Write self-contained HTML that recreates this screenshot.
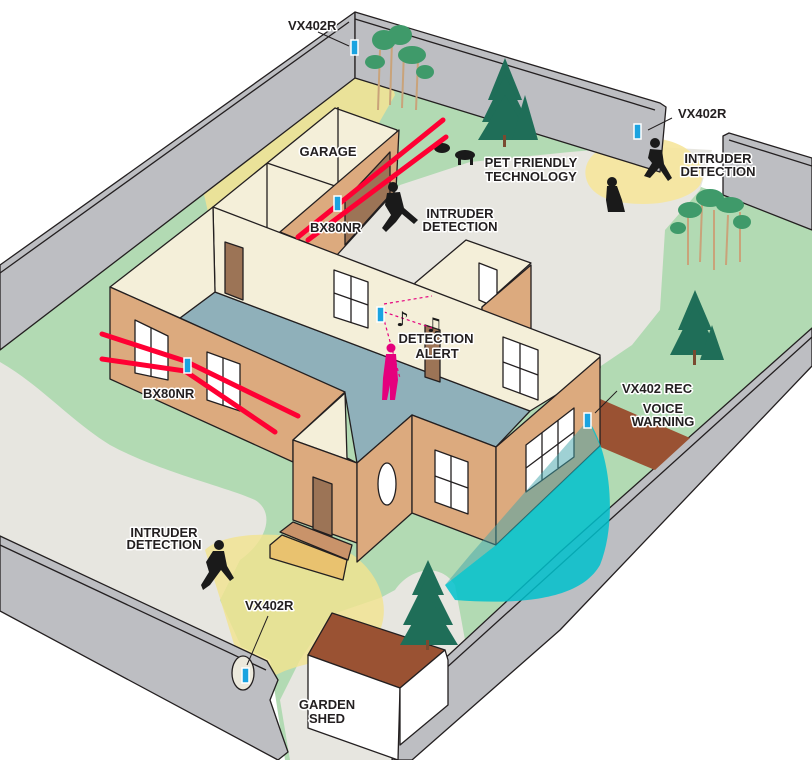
<!DOCTYPE html>
<html><head><meta charset="utf-8"><style>
html,body{margin:0;padding:0;background:#fff}
svg{display:block}
.l{font-family:"Liberation Sans Narrow","Liberation Sans",sans-serif;font-weight:bold;font-size:13px;fill:#231f20;stroke:#fff;stroke-width:3;paint-order:stroke;stroke-linejoin:round}
.o{stroke:#231f20;stroke-width:1.3;stroke-linejoin:round}
</style></head><body>
<svg width="812" height="760" viewBox="0 0 812 760" xmlns="http://www.w3.org/2000/svg">
<rect width="812" height="760" fill="#fff"/>
<!-- ground -->
<polygon points="0,350 355,78 660,172 723,195 812,230 812,328 560,552 400,700 394,760 285,760 270,660 0,536" fill="#b2dab3"/>
<path d="M0,362 C40,385 70,420 110,445 C160,472 230,488 255,500 C275,512 268,540 240,560 L220,600 L245,655 L267,661 L0,536 Z" fill="#e7e6e0"/>
<path d="M330,250 L400,185 L470,162 L570,152 L640,146 L712,150 L700,190 L665,230 L660,310 L632,345 L592,372 L420,300 Z" fill="#e7e6e0"/>
<path d="M395,590 C410,568 440,562 455,585 L465,640 L420,690 L400,700 L394,760 L290,760 L280,700 L300,660 L330,615 L380,598 Z" fill="#e7e6e0"/>
<!-- yellow zones -->
<polygon points="355,40 385,62 395,95 372,135 300,172 208,212 203,190 262,128" fill="#f3e394" opacity="0.85"/>
<path d="M638,128 L600,150 C580,160 578,190 610,200 C650,210 690,200 700,185 C710,165 690,145 665,140 Z" fill="#f6e59c" opacity="0.9"/>
<path d="M205,550 C225,530 300,528 350,553 C388,578 392,622 372,642 C345,662 295,660 268,680 L248,690 L222,605 Z" fill="#f2e38f" opacity="0.8"/>
<!-- walls -->
<polygon class="o" points="0,265 355,12 355,78 0,350" fill="#bdbec2"/>
<line class="o" x1="0" y1="273" x2="349" y2="22"/>
<polygon class="o" points="355,12 660,103 666,107 660,172 355,78" fill="#bdbec2"/>
<line class="o" x1="355" y1="19" x2="655" y2="110"/>
<polygon class="o" points="723,136 729,133 812,158 812,230 723,195" fill="#bdbec2"/>
<line class="o" x1="729" y1="140" x2="812" y2="166"/>
<polygon class="o" points="812,328 560,552 400,700 394,702 396,735 392,760 412,760 560,630 812,366" fill="#bdbec2"/>
<line class="o" x1="812" y1="337" x2="402" y2="708"/>
<polygon class="o" points="0,536 267,661 278,680 270,700 282,735 288,752 278,760 0,611" fill="#bdbec2"/>
<line class="o" x1="0" y1="545" x2="266" y2="670"/>
<ellipse class="o" cx="243" cy="673" rx="11" ry="17" fill="#ece9dc"/>
<!-- brown path -->
<polygon points="598,398 690,438 655,470 598,446" fill="#9a5233"/>
<!-- garage -->
<polygon class="o" points="213,207 335,108 397,130 397,140 280,232 278,240" fill="#f4efd9"/>
<line class="o" x1="338" y1="107" x2="338" y2="187"/>
<line class="o" x1="267" y1="163" x2="267" y2="230"/>
<line class="o" x1="267" y1="163" x2="338" y2="187"/>
<polygon class="o" points="280,232 399,130 396,190 337,255" fill="#dcaa7e"/>
<polygon class="o" points="345,200 390,152 390,195 345,245" fill="#9c7456"/>
<!-- floor -->
<polygon class="o" points="180,318 215,292 530,411 496,447 412,415 357,463 345,393" fill="#8fb0ba"/>
<!-- back right small room -->
<polygon class="o" points="415,283 466,240 531,263 482,307 482,312 415,287" fill="#f4efd9"/>
<polygon class="o" points="479,263 497,270 497,308 479,300" fill="#fff"/>
<polygon class="o" points="482,307 531,265 531,330 482,312" fill="#dcaa7e"/>
<!-- long back wall -->
<polygon class="o" points="213,207 600,355 600,368 530,411 215,292" fill="#f4efd9"/>
<polygon class="o" points="225,242 243,248 243,300 225,293" fill="#9c7456"/>
<polygon class="o" points="334,270 368,282 368,328 334,317" fill="#fff"/>
<line class="o" x1="351" y1="276" x2="351" y2="323"/><line class="o" x1="334" y1="293" x2="368" y2="305"/>
<polygon class="o" points="503,337 538,350 538,400 503,387" fill="#fff"/>
<line class="o" x1="520" y1="343" x2="520" y2="393"/><line class="o" x1="503" y1="362" x2="538" y2="375"/>
<polygon class="o" points="425,325 440,330 440,382 425,377" fill="#9c7456"/>
<!-- left inner cream -->
<polygon class="o" points="110,287 213,207 215,292 180,318" fill="#f4efd9"/>
<!-- left wing tan -->
<polygon class="o" points="110,287 345,392 293,440 293,462 110,379" fill="#dcaa7e"/>
<polygon class="o" points="135,320 168,336 168,380 135,373" fill="#fff"/>
<line class="o" x1="151" y1="328" x2="151" y2="377"/>
<polygon class="o" points="207,352 240,364 240,411 207,400" fill="#fff"/>
<line class="o" x1="223" y1="358" x2="223" y2="406"/>
<!-- porch -->
<polygon class="o" points="293,440 345,393 347,458 357,463" fill="#f4efd9"/>
<polygon class="o" points="293,440 357,463 357,543 293,520" fill="#dcaa7e"/>
<polygon class="o" points="313,477 332,484 332,536 313,529" fill="#9c7456"/>
<polygon class="o" points="280,532 293,522 352,545 348,560" fill="#c9936a"/>
<polygon class="o" points="270,545 282,535 347,560 343,580 270,558" fill="#e9c26f"/>
<!-- middle block -->
<polygon class="o" points="357,463 412,415 412,513 357,562" fill="#dcaa7e"/>
<polygon class="o" points="412,415 496,447 496,545 412,513" fill="#dcaa7e"/>
<ellipse class="o" cx="387" cy="484" rx="9" ry="21" fill="#fff"/>
<polygon class="o" points="435,450 468,462 468,514 435,502" fill="#fff"/>
<line class="o" x1="451" y1="456" x2="451" y2="508"/><line class="o" x1="435" y1="476" x2="468" y2="488"/>
<!-- right block -->
<polygon class="o" points="496,447 600,357 600,446 496,545" fill="#dcaa7e"/>
<polygon class="o" points="526,445 574,408 574,457 526,492" fill="#fff"/>
<line class="o" x1="542" y1="433" x2="542" y2="480"/><line class="o" x1="558" y1="420" x2="558" y2="468"/><line class="o" x1="526" y1="468" x2="574" y2="432"/>
<!-- teal cone -->
<path d="M588,420 C610,450 618,520 600,565 C580,600 520,605 455,600 L445,585 L496,545 L600,446 Z" fill="#00c1cc" opacity="0.85"/>
<path d="M588,420 L600,446 L496,545 L445,585 L470,555 Z" fill="#3fa4aa" opacity="0.5"/>
<!-- shed -->
<polygon class="o" points="332,613 445,650 400,688 308,655" fill="#9a5233"/>
<polygon class="o" points="308,655 400,688 398,760 308,728" fill="#fff"/>
<polygon class="o" points="400,688 445,650 448,660 448,705 400,745" fill="#fff"/>
<!-- pines -->
<g fill="#1f6e58">
<polygon points="505,58 488,100 522,100"/><polygon points="505,75 482,122 528,122"/><polygon points="505,95 478,140 532,140"/>
<polygon points="525,95 512,140 538,140"/>
<rect x="503" y="135" width="3" height="12" fill="#7a4a30"/>
<polygon points="695,290 678,330 712,330"/><polygon points="695,305 670,355 720,355"/><polygon points="712,325 700,360 724,360"/>
<rect x="693" y="350" width="3" height="15" fill="#7a4a30"/>
<polygon points="428,560 412,595 444,595"/><polygon points="428,575 403,625 453,625"/><polygon points="428,595 400,645 458,645"/>
<rect x="426" y="640" width="3" height="10" fill="#7a4a30"/>
</g>
<!-- deciduous -->
<g stroke="#c9a37a" stroke-width="2">
<line x1="378" y1="110" x2="380" y2="50"/><line x1="390" y1="105" x2="392" y2="40"/><line x1="402" y1="108" x2="404" y2="50"/><line x1="416" y1="110" x2="418" y2="60"/>
<line x1="688" y1="265" x2="688" y2="215"/><line x1="700" y1="262" x2="702" y2="205"/><line x1="714" y1="270" x2="714" y2="210"/><line x1="726" y1="265" x2="728" y2="215"/><line x1="740" y1="262" x2="740" y2="212"/>
</g>
<g fill="#3f9a6a">
<ellipse cx="384" cy="40" rx="12" ry="10"/><ellipse cx="400" cy="35" rx="12" ry="10"/><ellipse cx="412" cy="55" rx="14" ry="9"/><ellipse cx="375" cy="62" rx="10" ry="7"/><ellipse cx="425" cy="72" rx="9" ry="7"/>
<ellipse cx="690" cy="210" rx="12" ry="8"/><ellipse cx="710" cy="198" rx="14" ry="9"/><ellipse cx="730" cy="205" rx="14" ry="8"/><ellipse cx="742" cy="222" rx="9" ry="7"/><ellipse cx="678" cy="228" rx="8" ry="6"/>
</g>
<!-- figures -->
<g fill="#1a1a1a">
<circle cx="393" cy="187" r="5"/><path d="M387,193 L400,192 L404,208 L418,220 L414,224 L402,214 L396,222 L386,232 L382,228 L391,215 L385,205 Z"/>
<circle cx="655" cy="143" r="5"/><path d="M650,149 L662,150 L664,164 L672,178 L668,181 L659,168 L650,178 L644,176 L652,163 L648,158 Z"/>
<circle cx="612" cy="182" r="5"/><path d="M607,186 L617,186 L622,200 L625,212 L608,212 L606,200 Z"/>
<ellipse cx="442" cy="148" rx="8" ry="5"/><ellipse cx="465" cy="155" rx="10" ry="5"/><rect x="458" y="155" width="3" height="10"/><rect x="470" y="155" width="3" height="10"/>
<circle cx="219" cy="545" r="5"/><path d="M213,551 L224,551 L227,566 L234,578 L230,581 L221,570 L210,585 L203,590 L201,585 L209,572 L206,562 Z"/>
</g>
<circle cx="391" cy="348" r="4.5" fill="#e5007d"/>
<path d="M386,354 L396,354 L398,380 L395,400 L390,400 L390,385 L387,400 L382,400 L383,378 Z" fill="#e5007d"/>
<!-- alert -->
<g stroke="#e5007d" stroke-width="1.2" stroke-dasharray="3,3" fill="none">
<line x1="384" y1="304" x2="432" y2="296"/><line x1="384" y1="312" x2="432" y2="328"/><line x1="383" y1="316" x2="400" y2="378"/>
</g>
<text x="396" y="326" font-size="20" font-family="DejaVu Sans,sans-serif" fill="#1a1a1a">♪</text>
<text x="425" y="332" font-size="20" font-family="DejaVu Sans,sans-serif" fill="#1a1a1a">♫</text>
<!-- beams -->
<g stroke="#ff0033" stroke-width="5" stroke-linecap="round">
<line x1="298" y1="237" x2="443" y2="120"/><line x1="308" y1="240" x2="446" y2="137"/>
<polyline points="102,334 185,361 298,416" fill="none"/><polyline points="102,359 185,371 275,432" fill="none"/>
</g>
<!-- sensors -->
<g fill="#1aa3e0" stroke="#fff" stroke-width="1.5">
<rect x="351" y="40" width="7" height="15"/><rect x="334" y="196" width="7" height="15"/><rect x="634" y="124" width="7" height="15"/>
<rect x="184" y="358" width="7" height="15"/><rect x="377" y="307" width="7" height="15"/><rect x="584" y="413" width="7" height="15"/><rect x="242" y="668" width="7" height="15"/>
</g>
<!-- leaders -->
<g stroke="#231f20" stroke-width="1">
<line x1="318" y1="32" x2="349" y2="46"/><line x1="648" y1="130" x2="672" y2="118"/><line x1="595" y1="413" x2="617" y2="391"/><line x1="268" y1="616" x2="247" y2="665"/>
</g>
<!-- labels -->
<text class="l" x="288" y="30">VX402R</text>
<text class="l" x="328" y="156" text-anchor="middle">GARAGE</text>
<text class="l" x="310" y="232">BX80NR</text>
<text class="l" x="460" y="218" text-anchor="middle">INTRUDER</text><text class="l" x="460" y="231" text-anchor="middle">DETECTION</text>
<text class="l" x="531" y="167" text-anchor="middle">PET FRIENDLY</text><text class="l" x="531" y="181" text-anchor="middle">TECHNOLOGY</text>
<text class="l" x="678" y="118">VX402R</text>
<text class="l" x="718" y="163" text-anchor="middle">INTRUDER</text><text class="l" x="718" y="176" text-anchor="middle">DETECTION</text>
<text class="l" x="436" y="343" text-anchor="middle">DETECTION</text><text class="l" x="437" y="358" text-anchor="middle">ALERT</text>
<text class="l" x="143" y="398">BX80NR</text>
<text class="l" x="622" y="393">VX402 REC</text>
<text class="l" x="663" y="413" text-anchor="middle">VOICE</text><text class="l" x="663" y="426" text-anchor="middle">WARNING</text>
<text class="l" x="164" y="537" text-anchor="middle">INTRUDER</text><text class="l" x="164" y="549" text-anchor="middle">DETECTION</text>
<text class="l" x="245" y="610">VX402R</text>
<text class="l" x="327" y="709" text-anchor="middle">GARDEN</text><text class="l" x="327" y="723" text-anchor="middle">SHED</text>
</svg>
</body></html>
